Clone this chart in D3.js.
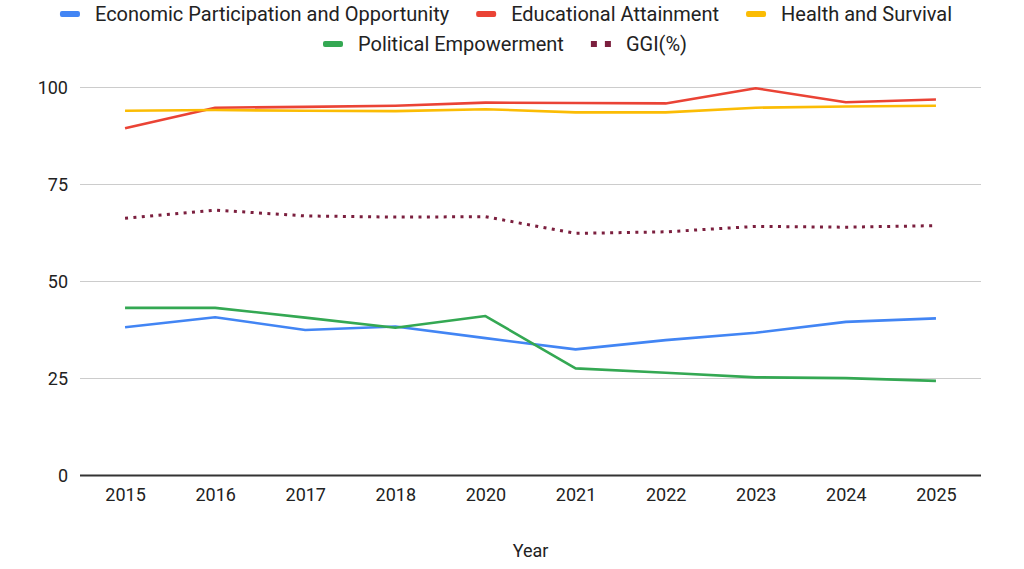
<!DOCTYPE html>
<html>
<head>
<meta charset="utf-8">
<script src="https://cdn.jsdelivr.net/npm/d3@7"></script>
<style>
  body { margin: 0; background: #fff; }
  text { font-family: Roboto, Arial, sans-serif; }
</style>
</head>
<body>
<div id="chart"></div>
<script>
const years = ["2015", "2016", "2017", "2018", "2020", "2021", "2022", "2023", "2024", "2025"];
const economic = [38.2, 40.8, 37.5, 38.4, 35.4, 32.5, 34.9, 36.8, 39.6, 40.5];
const education = [89.5, 94.8, 95.0, 95.3, 96.1, 96.0, 95.9, 99.8, 96.2, 96.9];
const health = [94.0, 94.2, 94.0, 93.9, 94.4, 93.6, 93.6, 94.8, 95.1, 95.3];
const political = [43.2, 43.2, 40.7, 38.1, 41.1, 27.6, 26.5, 25.3, 25.1, 24.4];
const ggi = [66.3, 68.4, 66.9, 66.6, 66.7, 62.4, 62.8, 64.2, 64.0, 64.4];
const yTicks = [0, 25, 50, 75, 100];

const series = [
  { name: "Economic Participation and Opportunity", values: economic, color: "#4285f4" },
  { name: "Educational Attainment", values: education, color: "#ea4335" },
  { name: "Health and Survival", values: health, color: "#fbbc04" },
  { name: "Political Empowerment", values: political, color: "#34a853" },
  { name: "GGI(%)", values: ggi, color: "#7b1f3e", dotted: true }
];

const width = 1024, height = 569;
const margin = { left: 80, right: 43, top: 87.5, bottom: 93.5 };

const svg = d3.select("#chart").append("svg")
  .attr("width", width)
  .attr("height", height);

const x = d3.scalePoint()
  .domain(years)
  .range([margin.left, width - margin.right])
  .padding(0.5);

const y = d3.scaleLinear()
  .domain([0, 100])
  .range([height - margin.bottom, margin.top]);

// grid
svg.append("g")
  .selectAll("line")
  .data(yTicks.filter(d => d > 0))
  .join("line")
  .attr("x1", margin.left)
  .attr("x2", width - margin.right)
  .attr("y1", d => y(d))
  .attr("y2", d => y(d))
  .attr("stroke", "#cccccc")
  .attr("stroke-width", 1.2);

// y labels
const yAxis = svg.append("g")
  .attr("transform", `translate(${margin.left},0)`)
  .call(d3.axisLeft(y).tickValues(yTicks).tickSize(0).tickPadding(12));
yAxis.select(".domain").remove();
yAxis.selectAll("text")
  .style("font-size", "18px")
  .attr("fill", "#222");

// lines
const line = d3.line()
  .x((d, i) => x(years[i]))
  .y(d => y(d));

svg.append("g")
  .selectAll("path")
  .data(series)
  .join("path")
  .attr("d", d => line(d.values))
  .attr("fill", "none")
  .attr("stroke", d => d.color)
  .attr("stroke-width", d => d.dotted ? 3 : 2.6)
  .attr("stroke-dasharray", d => d.dotted ? "3,5.4" : null)
  .attr("stroke-linejoin", "round");

// baseline
svg.append("line")
  .attr("x1", margin.left)
  .attr("x2", width - margin.right)
  .attr("y1", y(0))
  .attr("y2", y(0))
  .attr("stroke", "#333")
  .attr("stroke-width", 1.8);

// x labels
const xAxis = svg.append("g")
  .attr("transform", `translate(0,${y(0)})`)
  .call(d3.axisBottom(x).tickSize(0).tickPadding(13));
xAxis.select(".domain").remove();
xAxis.selectAll("text")
  .style("font-size", "18px")
  .attr("fill", "#222");

svg.append("text")
  .attr("x", (margin.left + width - margin.right) / 2)
  .attr("y", 557)
  .attr("text-anchor", "middle")
  .style("font-size", "18px")
  .attr("fill", "#222")
  .text("Year");

// legend
const rows = [series.slice(0, 3), series.slice(3)];
const rowY = [14, 44];
const rowCenter = [506, 468];
const gap = 27;
rows.forEach((items, r) => {
  const g = svg.append("g");
  let cx = 0;
  items.forEach(s => {
    const item = g.append("g");
    if (s.dotted) {
      [0, 14].forEach(dx => {
        item.append("rect")
          .attr("x", dx).attr("y", -3)
          .attr("width", 6).attr("height", 6)
          .attr("fill", s.color);
      });
    } else {
      item.append("rect")
        .attr("x", 0).attr("y", -3)
        .attr("width", 20).attr("height", 6)
        .attr("rx", 2)
        .attr("fill", s.color);
    }
    const t = item.append("text")
      .attr("x", 35)
      .attr("y", 0)
      .attr("dy", "0.35em")
      .style("font-size", "20px")
      .attr("fill", "#222")
      .text(s.name);
    const w = 35 + t.node().getComputedTextLength();
    item.attr("transform", `translate(${cx},${rowY[r]})`);
    cx += w + gap;
  });
  const total = cx - gap;
  g.attr("transform", `translate(${r === 0 ? rowCenter[0] - total / 2 : 323},0)`);
});
</script>
</body>
</html>
